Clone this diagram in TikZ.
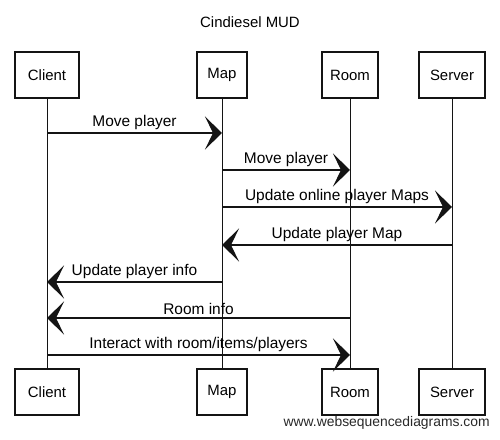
\documentclass[tikz,border=0pt]{standalone}
\usepackage{fontspec}
\setmainfont{Liberation Sans}
\usepackage{xcolor}
\usepackage{tikz}
\usetikzlibrary{arrows.meta, positioning}
\definecolor{SeqLine}{RGB}{20, 20, 20}
\definecolor{SeqMark}{RGB}{40, 40, 40}

\tikzset{
    actor/.style={draw=SeqLine, line width=0.7pt, minimum height=9.2mm, inner sep=0pt, font=\fontsize{8.5}{10}\selectfont},
    lifeline/.style={draw=SeqLine, line width=0.5pt},
    msg/.style={draw=SeqLine, line width=0.6pt, -{Stealth[length=3.4mm, width=6.6mm, inset=1.6mm]}},
    msglabel/.style={above, inner sep=0.6mm, font=\fontsize{8.8}{10}\selectfont}
}

\begin{document}
\begin{tikzpicture}
    \path[use as bounding box] (0,0) rectangle (100mm,87.8mm);
    \node[font=\fontsize{8.5}{10}\selectfont] (title) at (50mm,83.4mm) {Cindiesel MUD};

    % actors, top row
    \node[actor, minimum width=12.8mm] (clientT) at (9.4mm,72.8mm) {Client};
    \node[actor, minimum width=10mm]   (mapT)    at (44.4mm,72.8mm) {Map};
    \node[actor, minimum width=11.2mm] (roomT)   at (70mm,72.8mm) {Room};
    \node[actor, minimum width=13.2mm] (serverT) at (90.4mm,72.8mm) {Server};
    % actors, bottom row
    \node[actor, minimum width=12.8mm] (clientB) at (9.4mm,9.4mm) {Client};
    \node[actor, minimum width=10mm]   (mapB)    at (44.4mm,9.4mm) {Map};
    \node[actor, minimum width=11.2mm] (roomB)   at (70mm,9.4mm) {Room};
    \node[actor, minimum width=13.2mm] (serverB) at (90.4mm,9.4mm) {Server};

    \foreach \who in {client, map, room, server}
        \draw[lifeline] (\who T.south) -- (\who B.north);

    % message levels
    \coordinate (lvA) at (0,61.2mm);
    \coordinate (lvB) at (0,53.8mm);
    \coordinate (lvC) at (0,46.4mm);
    \coordinate (lvD) at (0,38.8mm);
    \coordinate (lvE) at (0,31.4mm);
    \coordinate (lvF) at (0,24.2mm);
    \coordinate (lvG) at (0,16.8mm);

    \draw[msg] (clientT |- lvA) -- (mapT |- lvA) node[msglabel, midway] {Move player};
    \draw[msg] (mapT |- lvB) -- (roomT |- lvB) node[msglabel, midway] {Move player};
    \draw[msg] (mapT |- lvC) -- (serverT |- lvC) node[msglabel, midway] {Update online player Maps};
    \draw[msg] (serverT |- lvD) -- (mapT |- lvD) node[msglabel, midway] {Update player Map};
    \draw[msg] (mapT |- lvE) -- (clientT |- lvE) node[msglabel, midway] {Update player info};
    \draw[msg] (roomT |- lvF) -- (clientT |- lvF) node[msglabel, midway] {Room info};
    \draw[msg] (clientT |- lvG) -- (roomT |- lvG) node[msglabel, midway] {Interact with room/items/players};

    \node[anchor=east, inner sep=0pt, font=\fontsize{7.9}{9}\selectfont, text=SeqMark] (credit) at (98mm,3.2mm) {www.websequencediagrams.com};
\end{tikzpicture}
\end{document}
